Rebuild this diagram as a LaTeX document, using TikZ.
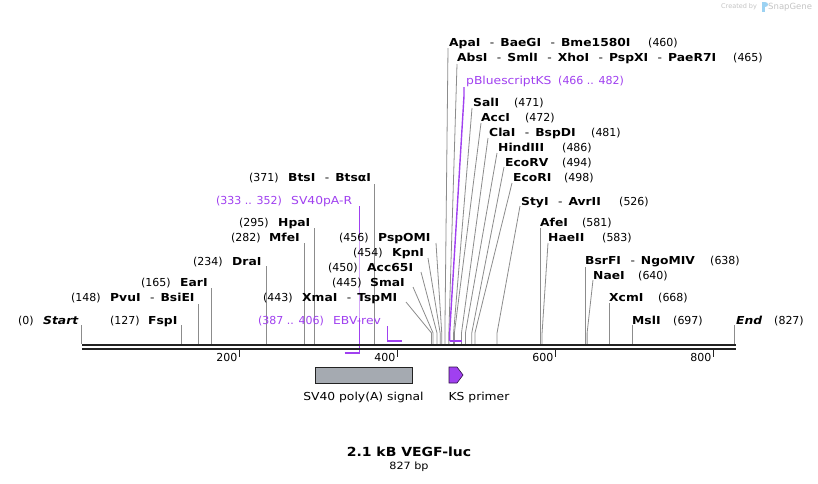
\documentclass[tikz,border=0pt]{standalone}
\usepackage{fontspec}
\setmainfont{DejaVu Sans}[FakeStretch=1.12]
\newfontfamily\numf{DejaVu Sans}
\definecolor{prim}{HTML}{A040F0}
\definecolor{lead}{HTML}{8C8C8C}
\definecolor{dna}{HTML}{222222}
\definecolor{featgray}{HTML}{A5AAB1}
\definecolor{wm}{HTML}{C4C4C4}
\definecolor{wmblue}{HTML}{9CD2F2}
\newcommand\sx[1]{{81.5+0.79*#1}}
% \lab{id}{num x}{name x}{center y}{number}{name}
\newcommand\lab[6]{%
  \node[numtxt] (#1n) at (#2,#4+4) {#5};
  \node[nametxt] (#1) at (#3,#4+4) {#6};}
\newcommand\plab[6]{%
  \node[numtxt,text=prim] (#1n) at (#2,#4+4) {#5};
  \node[wordtxt,text=prim] (#1) at (#3,#4+4) {#6};}
% vertical leader: site, top y
\newcommand\vlead[2]{\draw[leader] (\sx{#1},#2) -- (\sx{#1},344);}
% slanted leader: top x, top y, site
\newcommand\slead[3]{\draw[leader] (#1,#2) -- (\sx{#3},333) -- (\sx{#3},344);}
\newcommand\sep{\hspace{9.5pt}\mdseries-\hspace{6pt}\bfseries}
\begin{document}
\begin{tikzpicture}[x=1pt,y=-1pt,
  numtxt/.style={anchor=base west,inner sep=0pt,font=\numf\fontsize{11}{13}\selectfont},
  wordtxt/.style={anchor=base west,inner sep=0pt,font=\fontsize{11}{13}\selectfont},
  nametxt/.style={anchor=base west,inner sep=0pt,font=\fontsize{11}{13}\selectfont\bfseries},
  leader/.style={draw=lead,line width=0.8pt},
  primline/.style={draw=prim,line width=1.4pt},
  dnaline/.style={draw=dna,line width=2.2pt},
  tick/.style={draw=dna,line width=1.8pt},
  ticktxt/.style={anchor=east,inner sep=0pt,font=\numf\fontsize{11}{13}\selectfont},
  featlab/.style={inner sep=0pt,font=\fontsize{11}{13}\selectfont}]
\useasboundingbox[fill=white] (0,0) rectangle (818,483);

% watermark
\node[anchor=west,inner sep=0pt,text=wm,font=\numf\fontsize{6.5}{8}\selectfont] (wm1) at (721,7) {Created by};
\fill[wmblue] (762,2) rectangle (765,12);
\fill[wmblue] (765,2) .. controls (769,2) and (769,7) .. (765,7) -- cycle;
\node[anchor=west,inner sep=0pt,text=wm,font=\numf\fontsize{8.5}{10}\selectfont] (wm2) at (768,7) {SnapGene};

% leaders (left vertical)
\vlead{0}{325}
\vlead{127}{325}
\vlead{148}{304}
\vlead{165}{288}
\vlead{234}{266}
\vlead{282}{243}
\vlead{295}{228}
\vlead{371}{184}
% left slanted
\slead{406}{302}{443}
\slead{413}{287}{445}
\slead{421}{272}{450}
\slead{428}{258}{454}
\slead{436}{243}{456}
% right slanted
\slead{448}{48}{460}
\slead{457}{64}{465}
\slead{472}{108}{471}
\slead{481}{123}{472}
\slead{488}{138}{481}
\slead{497}{153}{486}
\slead{504}{167}{494}
\slead{512}{183}{498}
\slead{520}{206}{526}
\vlead{581}{228}
\slead{548}{243}{583}
\vlead{638}{267}
\slead{593}{280}{640}
\vlead{668}{303}
\vlead{697}{325}
\vlead{827}{325}

% primer features
\draw[primline] (464,87) -- (464,96) -- (\sx{466},333) -- (\sx{466},341);
\draw[primline] (\sx{466},341) -- (\sx{482},341);
\draw[primline] (\sx{352},206) -- (\sx{352},236);
\draw[primline,draw=prim!45] (\sx{352},236) -- (\sx{352},318);
\draw[primline] (\sx{352},318) -- (\sx{352},353);
\draw[primline] (\sx{333},353) -- (\sx{352},353);
\draw[primline] (\sx{387},326) -- (\sx{387},341) -- (\sx{406},341);

% DNA line
\draw[dnaline] (82,345) -- (735.5,345);
\draw[dnaline] (82,349) -- (735.5,349);
\foreach \t in {200,400,600,800}{
  \draw[tick] (\sx{\t},350) -- (\sx{\t},357);
  \node[ticktxt] (tk\t) at ({79.5+0.79*\t},357) {\t};
}

% labels
\lab{start}{18}{43}{320}{(0)}{\textit{Start}}
\lab{fsp}{110}{148}{320}{(127)}{FspI}
\lab{pvu}{71}{110}{297}{(148)}{PvuI\sep BsiEI}
\lab{ear}{141}{180}{282}{(165)}{EarI}
\lab{dra}{193}{232}{261}{(234)}{DraI}
\lab{mfe}{231}{269}{237}{(282)}{MfeI}
\lab{hpa}{239}{278}{222}{(295)}{HpaI}
\lab{bts}{249}{288}{177}{(371)}{BtsI\sep BtsαI}
\lab{xma}{263}{302}{297}{(443)}{XmaI\sep TspMI}
\lab{sma}{332}{370}{282}{(445)}{SmaI}
\lab{acc65}{328}{367}{267}{(450)}{Acc65I}
\lab{kpn}{353}{392}{252}{(454)}{KpnI}
\lab{pspo}{339}{378}{237}{(456)}{PspOMI}
\lab{apa}{648}{449}{42}{(460)}{ApaI\sep BaeGI\sep Bme1580I}
\lab{abs}{733}{457}{57}{(465)}{AbsI\sep SmlI\sep XhoI\sep PspXI\sep PaeR7I}
\lab{sal}{514}{473}{102}{(471)}{SalI}
\lab{acc}{525}{481}{117}{(472)}{AccI}
\lab{cla}{591}{489}{132}{(481)}{ClaI\sep BspDI}
\lab{hind}{562}{498}{147}{(486)}{HindIII}
\lab{ecorv}{562}{505}{162}{(494)}{EcoRV}
\lab{ecori}{564}{513}{177}{(498)}{EcoRI}
\lab{sty}{619}{521}{201}{(526)}{StyI\sep AvrII}
\lab{afe}{582}{540}{222}{(581)}{AfeI}
\lab{hae}{602}{548}{237}{(583)}{HaeII}
\lab{bsr}{710}{585}{260}{(638)}{BsrFI\sep NgoMIV}
\lab{nae}{638}{593}{275}{(640)}{NaeI}
\lab{xcm}{658}{609}{297}{(668)}{XcmI}
\lab{msl}{673}{632}{320}{(697)}{MslI}
\lab{end}{774}{736}{320}{(827)}{\textit{End}}
\plab{pbks}{558}{466}{80}{(466 .. 482)}{pBluescriptKS}
\plab{sv40r}{216}{291}{200}{(333 .. 352)}{SV40pA-R}
\plab{ebv}{258}{333}{320}{(387 .. 406)}{EBV-rev}

% features below
\node[draw=dna,line width=0.8pt,fill=featgray,minimum width=97pt,minimum height=16pt,inner sep=0pt] (sv40) at (363.5,375) {};
\node[featlab] (sv40l) at (363.5,397) {SV40 poly(A) signal};
\draw[draw=black!70!prim,line width=0.6pt,fill=prim] (449,367) -- (457,367) -- (463,375) -- (457,383) -- (449,383) -- cycle;
\node[featlab] (ksl) at (479,397) {KS primer};

% title
\node[inner sep=0pt,font=\fontsize{12.5}{15}\selectfont\bfseries] (title) at (409,452) {2.1 kB VEGF-luc};
\node[inner sep=0pt,font=\fontsize{10}{12}\selectfont] (bp) at (409,467) {827 bp};
\end{tikzpicture}
\end{document}
